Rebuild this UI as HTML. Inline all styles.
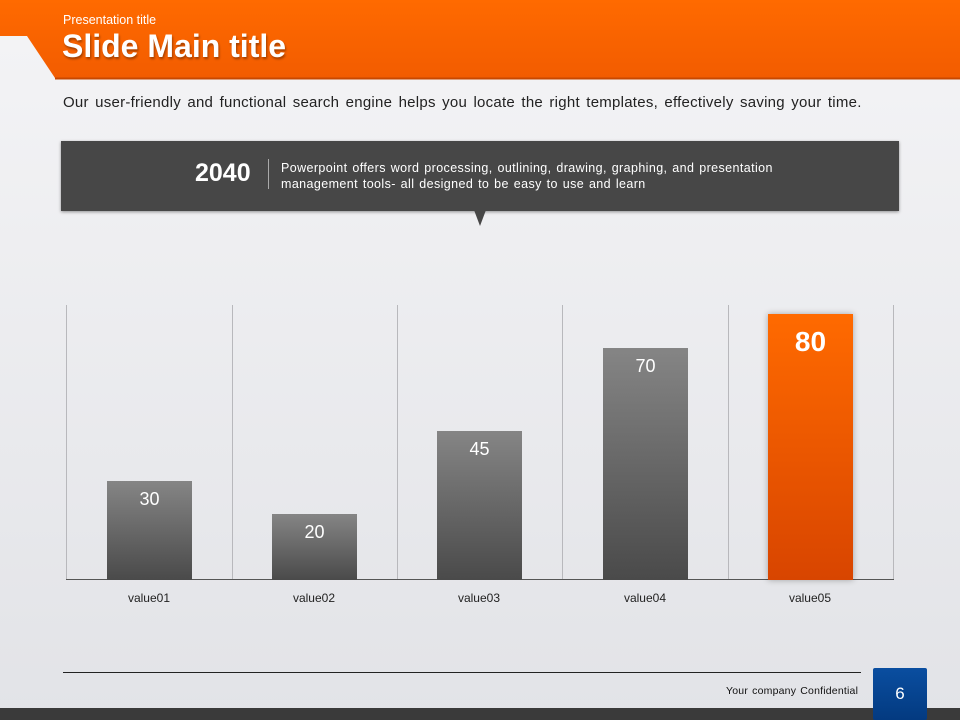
<!DOCTYPE html>
<html><head><style>
*{margin:0;padding:0;box-sizing:border-box}
body{width:960px;height:720px;overflow:hidden;position:relative;font-family:"Liberation Sans","DejaVu Sans",sans-serif;background:linear-gradient(#f4f4f6,#e2e3e7)}
.a{position:absolute}
.bar{position:absolute;width:85px;background:linear-gradient(#858585,#4a4a4a);color:#fff;text-align:center;font-size:18px;padding-top:8px}
.lab{position:absolute;top:591px;width:120px;text-align:center;font-size:12px;color:#222}
.g{position:absolute;top:305px;width:1px;height:275px;background:#b8b8bc}
</style></head><body>
<svg class="a" style="left:0;top:0" width="960" height="82">
<defs><linearGradient id="o" x1="0" y1="0" x2="0" y2="1"><stop offset="0" stop-color="#ff6a00"/><stop offset="1" stop-color="#f25c00"/></linearGradient></defs>
<polygon points="0,0 960,0 960,78 55,78 27,36 0,36" fill="url(#o)"/>
<line x1="55" y1="78.5" x2="960" y2="78.5" stroke="#c84800" stroke-width="2"/>
</svg>
<div class="a" style="left:63px;top:13px;font-size:12.5px;color:#fff">Presentation title</div>
<div class="a" style="left:62px;top:28px;color:#fff;font-size:32px;font-weight:bold;text-shadow:1px 2px 2px rgba(0,0,0,.35)">Slide Main title</div>
<div class="a" style="left:63px;top:94px;font-size:15px;color:#222;word-spacing:2px;letter-spacing:0.25px">Our user-friendly and functional search engine helps you locate the right templates, effectively saving your time.</div>
<div class="a" style="left:61px;top:141px;width:838px;height:70px;background:#474747;box-shadow:0 1px 3px rgba(0,0,0,.4)"></div>
<div class="a" style="left:474px;top:210px;width:0;height:0;border-left:6px solid transparent;border-right:6px solid transparent;border-top:16px solid #474747"></div>
<div class="a" style="left:195px;top:159px;color:#fff;font-size:25px;font-weight:bold">2040</div>
<div class="a" style="left:268px;top:159px;width:1px;height:30px;background:#aaa"></div>
<div class="a" style="left:281px;top:160px;color:#fff;font-size:12.5px;line-height:16px;letter-spacing:0.4px;word-spacing:1px">Powerpoint offers word processing, outlining, drawing, graphing, and presentation<br>management tools- all designed to be easy to use and learn</div>
<div class="g" style="left:66px"></div><div class="g" style="left:232px"></div><div class="g" style="left:397px"></div><div class="g" style="left:562px"></div><div class="g" style="left:728px"></div><div class="g" style="left:893px"></div>
<div class="a" style="left:66px;top:579px;width:828px;height:1px;background:#555"></div>
<div class="bar" style="left:107px;top:481px;height:99px">30</div>
<div class="bar" style="left:272px;top:514px;height:66px">20</div>
<div class="bar" style="left:437px;top:431px;height:149px">45</div>
<div class="bar" style="left:603px;top:348px;height:232px">70</div>
<div class="bar" style="left:768px;top:314px;height:266px;background:linear-gradient(#ff6a00,#d84500);font-size:28px;font-weight:bold;padding-top:12px;box-shadow:0 0 6px rgba(0,0,0,.3)">80</div>
<div class="lab" style="left:89px">value01</div><div class="lab" style="left:254px">value02</div><div class="lab" style="left:419px">value03</div><div class="lab" style="left:585px">value04</div><div class="lab" style="left:750px">value05</div>
<div class="a" style="left:63px;top:672px;width:798px;height:1px;background:#222"></div>
<div class="a" style="left:726px;top:685px;font-size:10.5px;color:#111;letter-spacing:0.2px;word-spacing:1px">Your company Confidential</div>
<div class="a" style="left:0;top:708px;width:960px;height:12px;background:#3a3a3a"></div>
<div class="a" style="left:873px;top:668px;width:54px;height:52px;background:linear-gradient(#0a4ea0,#033a80);border-radius:2px;color:#fff;font-size:17px;text-align:center;padding-top:16px">6</div>
</body></html>
